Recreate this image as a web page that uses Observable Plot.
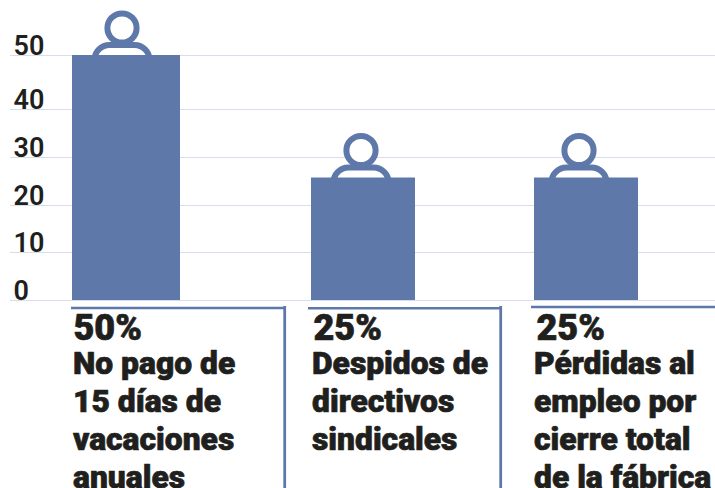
<!doctype html>
<html><head><meta charset="utf-8">
<script src="https://cdn.jsdelivr.net/npm/d3@7"></script>
<script src="https://cdn.jsdelivr.net/npm/@observablehq/plot@0.6"></script>
<style>html,body{margin:0;padding:0;background:#fff}svg{display:block}</style>
</head><body><div id="chart"></div>
<script>
const categories = ["No pago", "Despidos", "Pérdidas"];
const values = [50, 25, 25];
const labels = [
  "No pago de\n15 días de\nvacaciones\nanuales",
  "Despidos de\ndirectivos\nsindicales",
  "Pérdidas al\nempleo por\ncierre total\nde la fábrica"
];
const yTicks = [0, 10, 20, 30, 40, 50];

const rows = categories.map((category, i) => ({category, value: values[i], percent: values[i] + "%", label: labels[i]}));

const BLUE = "#5e78aa", INK = "#1f1f1d", FONT = "Roboto, sans-serif";
// per-column nudges: the source columns are not evenly spaced
const barDx = [-5, 3, -3], barInset = [-1, 1, 1];
const iconDx = [-9.5, 0.5, -10.5];
const percentDx = [-58, -47, -53], labelDx = [-58.5, -48.5, -55.5];

const shoulders = {draw(ctx) {
  ctx.moveTo(-27.5, 4.5);
  ctx.arc(-12.5, 4.5, 15, Math.PI, 1.5 * Math.PI);
  ctx.lineTo(12.5, -10.5);
  ctx.arc(12.5, 4.5, 15, 1.5 * Math.PI, 2 * Math.PI);
}};

const panels = [[71, 285, 284.7, 308], [308, 501.5, 500.7, 308.3], [531, 715, null, 307]];
const panelRules = () => {
  const g = d3.create("svg:g").attr("stroke", BLUE).attr("fill", "none");
  for (const [a, b, v, y] of panels) {
    g.append("line").attr("x1", a).attr("x2", b).attr("y1", y).attr("y2", y).attr("stroke-width", 2.4);
    if (v) g.append("line").attr("x1", v).attr("x2", v).attr("y1", 306).attr("y2", 488).attr("stroke-width", 2.8);
  }
  return g.node();
};

const byCol = (fn) => rows.flatMap((r, i) => fn([r], i));
const heavy = {fontWeight: 900, fill: INK, stroke: INK, strokeWidth: 0.7, textAnchor: "start", frameAnchor: "top", lineAnchor: "top"};

const chart = Plot.plot({
  width: 715, height: 488,
  marginLeft: 10, marginRight: 0, marginTop: 0, marginBottom: 187,
  style: {background: "#fff", fontFamily: FONT},
  x: {type: "band", domain: categories, range: [15, 705], paddingInner: 0.539, paddingOuter: 0.27, align: 0.5, axis: null},
  y: {type: "linear", domain: [0, 10, 20, 25, 30, 40, 50], range: [300, 252, 205, 177.5, 157, 109, 55], axis: null},
  marks: [
    Plot.gridY(yTicks, {stroke: "#d9dcea", strokeOpacity: 1, strokeWidth: 1}),
    Plot.axisY(yTicks, {anchor: "left", tickSize: 0, tickPadding: -3, textAnchor: "start", lineAnchor: "bottom",
      dy: -1, fontSize: 27, fontWeight: 600, fill: INK, label: null}),
    ...byCol((d, i) => [
      Plot.dot(d, {x: "category", y: "value", dx: iconDx[i], symbol: shoulders, stroke: BLUE, strokeWidth: 6, fill: "#fff"}),
      Plot.dot(d, {x: "category", y: "value", dx: iconDx[i], dy: -27.5, r: 14.6, stroke: BLUE, strokeWidth: 6, fill: "#fff"}),
      Plot.barY(d, {x: "category", y: "value", dx: barDx[i], insetLeft: barInset[i], insetRight: barInset[i], fill: BLUE}),
      Plot.text(d, {...heavy, x: "category", text: "percent", dx: percentDx[i], dy: 314, fontSize: 36}),
      Plot.text(d, {...heavy, x: "category", text: "label", dx: labelDx[i], dy: 346.5, fontSize: 31.8, lineHeight: 1.195})
    ]),
    panelRules
  ]
});
document.getElementById("chart").append(chart);
</script>
</body></html>
